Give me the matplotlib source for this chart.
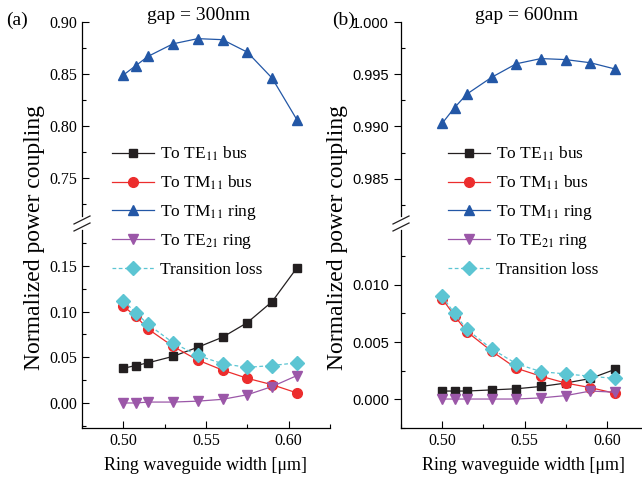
import matplotlib.pyplot as plt
from matplotlib.lines import Line2D
from matplotlib.ticker import MultipleLocator

plt.rcParams["font.family"] = ["Liberation Serif", "DejaVu Serif"]
plt.rcParams["mathtext.fontset"] = "stix"

# ring waveguide width [um]
width = [0.500, 0.5075, 0.515, 0.530, 0.545, 0.560, 0.575, 0.590, 0.605]

labels = ["To TE$_{11}$ bus", "To TM$_{11}$ bus", "To TM$_{11}$ ring",
          "To TE$_{21}$ ring", "Transition loss"]

# gap = 300nm
te11_bus_300 = [0.038, 0.041, 0.044, 0.051, 0.061, 0.072, 0.088, 0.111, 0.148]
tm11_bus_300 = [0.106, 0.095, 0.081, 0.062, 0.047, 0.036, 0.027, 0.020, 0.011]
tm11_ring_300 = [0.849, 0.858, 0.867, 0.879, 0.884, 0.883, 0.871, 0.846, 0.806]
te21_ring_300 = [0.000, 0.000, 0.001, 0.001, 0.002, 0.004, 0.009, 0.018, 0.030]
loss_300 = [0.112, 0.099, 0.086, 0.066, 0.052, 0.043, 0.039, 0.041, 0.044]

# gap = 600nm
te11_bus_600 = [0.0007, 0.0007, 0.0007, 0.0008, 0.0009, 0.0011, 0.0014, 0.0018, 0.0026]
tm11_bus_600 = [0.0088, 0.0073, 0.0059, 0.0042, 0.0027, 0.0020, 0.0014, 0.0010, 0.0005]
tm11_ring_600 = [0.9903, 0.9918, 0.9931, 0.9947, 0.9960, 0.9965, 0.9964, 0.9961, 0.9955]
te21_ring_600 = [0.0000, 0.0000, 0.0000, 0.0000, 0.0000, 0.0001, 0.0003, 0.0007, 0.0006]
loss_600 = [0.0090, 0.0075, 0.0061, 0.0044, 0.0031, 0.0024, 0.0022, 0.0020, 0.0018]

colors = ["#231f20", "#ec2d2d", "#2357a6", "#9b57a8", "#5cc5d3"]
markers = ["s", "o", "^", "v", "D"]
msizes = [6, 7, 7.5, 7.5, 7]
styles = ["-", "-", "-", "-", (0, (3, 2))]

W, H = 642, 479
fig = plt.figure(figsize=(W / 100, H / 100), dpi=100)


def px(x0, y0, x1, y1):
    return [x0 / W, 1 - y1 / H, (x1 - x0) / W, (y1 - y0) / H]


def style_axis(ax, top_part, tickdir_major, sans):
    ax.spines["right"].set_visible(False)
    ax.spines["top"].set_visible(False)
    if top_part:
        ax.spines["bottom"].set_visible(False)
        ax.tick_params(axis="x", which="both", bottom=False, labelbottom=False)
    ax.set_xlim(0.475, 0.625)
    ax.xaxis.set_major_locator(MultipleLocator(0.05))
    ax.xaxis.set_minor_locator(MultipleLocator(0.025))
    ax.tick_params(axis="both", which="major", direction=tickdir_major,
                   length=5, width=0.8, labelsize=11.5)
    ax.tick_params(axis="both", which="minor", direction="in",
                   length=3, width=0.8)
    ax.tick_params(axis="x", which="major", direction="in")
    for s in ax.spines.values():
        s.set_linewidth(0.9)
    if sans:
        for t in ax.get_yticklabels():
            t.set_fontfamily("Liberation Sans")
            t.set_fontsize(10.5)


def draw_panel(x0, x1, upper_ylim, lower_ylim, series, up_major, low_major,
               fmt, tickdir, sans, leg_xy):
    ax_up = fig.add_axes(px(x0, 22, x1, 216))
    ax_lo = fig.add_axes(px(x0, 230, x1, 428))
    handles = []
    for i, vals in enumerate(series):
        kw = dict(color=colors[i], marker=markers[i], ms=msizes[i],
                  ls=styles[i], lw=0.9, mec=colors[i], mfc=colors[i])
        if i == 2:
            h, = ax_up.plot(width, vals, **kw)
        else:
            h, = ax_lo.plot(width, vals, **kw)
        handles.append(h)
    ax_up.set_ylim(*upper_ylim)
    ax_lo.set_ylim(*lower_ylim)
    ax_up.yaxis.set_major_locator(MultipleLocator(up_major))
    ax_up.yaxis.set_minor_locator(MultipleLocator(up_major / 2))
    ax_lo.yaxis.set_major_locator(MultipleLocator(low_major))
    ax_lo.yaxis.set_minor_locator(MultipleLocator(low_major / 2))
    ax_up.yaxis.set_major_formatter(fmt)
    ax_lo.yaxis.set_major_formatter(fmt)
    ax_lo.xaxis.set_major_formatter("{x:.2f}")
    style_axis(ax_up, True, tickdir, sans)
    style_axis(ax_lo, False, tickdir, sans)

    # axis break marks
    for yc in (220, 227):
        fig.add_artist(Line2D([(x0 - 8) / W, (x0 + 8) / W],
                              [1 - (yc + 4) / H, 1 - (yc - 4) / H],
                              color="#231f20", lw=0.9))

    ax_lo.legend(handles, labels, loc="upper left",
                 bbox_to_anchor=(leg_xy[0] / W, 1 - leg_xy[1] / H),
                 bbox_transform=fig.transFigure, frameon=False, fontsize=12.5,
                 borderpad=0, borderaxespad=0, handlelength=2.4,
                 handletextpad=0.35, labelspacing=0.6)
    return ax_up, ax_lo


draw_panel(82, 330, (0.7135, 0.90), (-0.0274, 0.1894),
           [te11_bus_300, tm11_bus_300, tm11_ring_300, te21_ring_300, loss_300],
           0.05, 0.05, "{x:.2f}", "in", False, (112, 145))

draw_panel(401, 648, (0.98143, 1.000), (-0.00254, 0.01482),
           [te11_bus_600, tm11_bus_600, tm11_ring_600, te21_ring_600, loss_600],
           0.005, 0.005, "{x:.3f}", "out", True, (448, 145))

fig.text(6 / W, 1 - 20 / H, "(a)", fontsize=14, va="center", ha="left")
fig.text(332 / W, 1 - 20 / H, "(b)", fontsize=14, va="center", ha="left")
fig.text(199 / W, 1 - 15 / H, "gap = 300nm", fontsize=14, va="center", ha="center")
fig.text(527 / W, 1 - 15 / H, "gap = 600nm", fontsize=14, va="center", ha="center")
fig.text(35 / W, 1 - 238 / H, "Normalized power coupling", fontsize=17,
         rotation=90, va="center", ha="center")
fig.text(338 / W, 1 - 238 / H, "Normalized power coupling", fontsize=17,
         rotation=90, va="center", ha="center")
fig.text(206 / W, 1 - 465 / H, "Ring waveguide width [\u03bcm]", fontsize=13,
         va="center", ha="center")
fig.text(524 / W, 1 - 465 / H, "Ring waveguide width [\u03bcm]", fontsize=13,
         va="center", ha="center")

fig.savefig("out.png", dpi=100)
